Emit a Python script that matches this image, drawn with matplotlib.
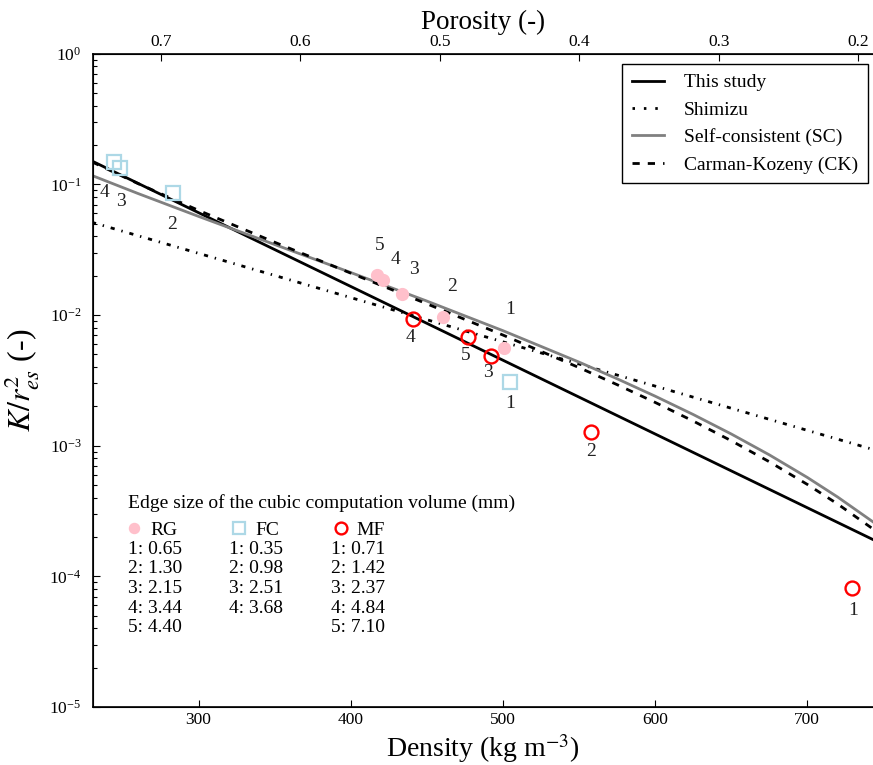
import matplotlib
matplotlib.use("Agg")
import matplotlib.pyplot as plt
from matplotlib.lines import Line2D
from matplotlib.ticker import LogLocator, LogFormatterSciNotation, NullLocator, FixedLocator, NullFormatter

plt.rcParams["font.family"] = "serif"
plt.rcParams["font.serif"] = ["Liberation Serif", "DejaVu Serif"]
plt.rcParams["mathtext.fontset"] = "stix"

ICE_DENSITY = 917.0

# Model curves: normalised permeability K / r_es^2 versus snow density
model_density = [230, 260, 300, 350, 400, 450, 500, 550, 575, 600, 625, 650, 675, 700, 720, 743]
carman_kozeny = [0.14853, 0.10167, 0.063248, 0.036061, 0.020928, 0.012188, 0.0070285,
                 0.0039601, 0.0029320, 0.0021443, 0.0015446, 0.0010918, 0.00075381,
                 0.00050537, 0.0003574, 0.00023126]
self_consistent = [0.11693, 0.085321, 0.056869, 0.034657, 0.021148, 0.012789, 0.0075910,
                   0.0043617, 0.0032537, 0.0023937, 0.0017331, 0.0012296, 0.00085129,
                   0.00057147, 0.00040413, 0.00026204]
fit_density = [230, 743]
this_study = [0.15086, 1.9155e-4]
shimizu = [0.05121, 9.369e-4]

# Computed samples (label i+1 for element i)
rg_density = [501.0, 460.9, 433.5, 421.4, 417.4]
rg_k = [0.00556, 0.00971, 0.01441, 0.01854, 0.0202]
fc_density = [504.7, 283.0, 248.2, 244.2]
fc_k = [0.00309, 0.0855, 0.1341, 0.1476]
mf_density = [729.1, 558.0, 492.0, 440.7, 476.9]
mf_k = [8.1e-5, 0.00127, 0.00486, 0.00927, 0.00682]

# Edge size of the cubic computation volume (mm)
rg_edge = [0.65, 1.30, 2.15, 3.44, 4.40]
fc_edge = [0.35, 0.98, 2.51, 3.68]
mf_edge = [0.71, 1.42, 2.37, 4.84, 7.10]

porosity_ticks = [0.7, 0.6, 0.5, 0.4, 0.3, 0.2]

# label offsets in points, one per sample
rg_offsets = [(4, 28), (6, 21.5), (8.5, 18), (9, 14.5), (1.5, 21.5)]
fc_offsets = [(0, -15.5), (-0.5, -22.5), (1.2, -24.5), (-6.5, -22)]
mf_offsets = [(1, -16), (0, -14), (-1.7, -12), (-1.2, -13), (-1.2, -13.2)]

W, H = 873, 765
fig = plt.figure(figsize=(W / 100, H / 100), dpi=100)
left, right, top, bottom = 92.6, 873.5, 53.7, 707.0
ax = fig.add_axes([left / W, 1 - bottom / H, (right - left) / W, (bottom - top) / H])

shimizu_style = (0, (1.5, 2.5, 0.5, 2.5))
ck_style = (0, (2.6, 2.9))

ax.plot(fit_density, this_study, color="black", lw=2.0, label="This study")
ax.plot(fit_density, shimizu, color="black", lw=2.0, linestyle=shimizu_style, label="Shimizu")
ax.plot(model_density, self_consistent, color="gray", lw=2.0, label="Self-consistent (SC)")
ax.plot(model_density, carman_kozeny, color="black", lw=2.0, linestyle=ck_style,
        label="Carman-Kozeny (CK)")

rg_art, = ax.plot(rg_density, rg_k, "o", ms=8.5, mfc="pink", mec="pink", ls="none", label="RG")
fc_art, = ax.plot(fc_density, fc_k, "s", ms=10, mfc="none", mec="lightblue", mew=1.6,
                  ls="none", label="FC")
mf_art, = ax.plot(mf_density, mf_k, "o", ms=10, mfc="none", mec="red", mew=1.7,
                  ls="none", label="MF")

for xs, ys, offs in ((rg_density, rg_k, rg_offsets), (fc_density, fc_k, fc_offsets),
                     (mf_density, mf_k, mf_offsets)):
    for i, (x, y) in enumerate(zip(xs, ys)):
        ax.annotate(str(i + 1), (x, y), xytext=offs[i], textcoords="offset points",
                    ha="center", va="center", fontsize=14, color="#222222")

ax.set_yscale("log")
ax.set_xlim(230.4, 743.5)
ax.set_ylim(1e-5, 1.0)
ax.yaxis.set_major_locator(LogLocator(base=10, numticks=10))
ax.yaxis.set_major_formatter(LogFormatterSciNotation())
ax.yaxis.set_minor_locator(LogLocator(base=10, subs=range(2, 10), numticks=20))
ax.yaxis.set_minor_formatter(NullFormatter())
ax.xaxis.set_major_locator(FixedLocator([300, 400, 500, 600, 700]))
ax.xaxis.set_minor_locator(NullLocator())
ax.tick_params(axis="both", which="both", direction="in", top=False, right=False)
ax.tick_params(axis="x", which="major", length=5, width=0.8, labelsize=12.5, pad=3.5)
ax.tick_params(axis="y", which="major", length=5, width=0.8, labelsize=12.5, pad=8)
ax.tick_params(axis="y", which="minor", length=3, width=0.8)
for sp in ax.spines.values():
    sp.set_linewidth(1.2)

ax.set_xlabel("Density (kg m$^{-3}$)", fontsize=20, labelpad=3)
ax.set_ylabel("$K/r_{es}^2$ (-)", fontsize=23, labelpad=6)

# porosity scale on top
ax2 = ax.twiny()
ax2.set_xlim(ax.get_xlim())
ax2.xaxis.set_major_locator(FixedLocator([ICE_DENSITY * (1 - p) for p in porosity_ticks]))
ax2.set_xticklabels([f"{p:.1f}" for p in porosity_ticks])
ax2.xaxis.set_minor_locator(NullLocator())
ax2.tick_params(axis="x", which="major", direction="in", length=5, width=0.8,
                labelsize=12.5, pad=2.5)
ax2.set_xlabel("Porosity (-)", fontsize=19.5, labelpad=4)

# model legend
handles = [Line2D([], [], color="black", lw=2.0),
           Line2D([], [], color="black", lw=2.0, linestyle=(0, (0.9, 3.2))),
           Line2D([], [], color="gray", lw=2.0),
           Line2D([], [], color="black", lw=2.0, linestyle=ck_style)]
labels = ["This study", "Shimizu", "Self-consistent (SC)", "Carman-Kozeny (CK)"]
ax_w, ax_h = right - left, bottom - top
leg1 = ax2.legend(handles, labels, loc="upper right",
                  bbox_to_anchor=((868 - left) / ax_w, (bottom - 64) / ax_h),
                  borderaxespad=0, fontsize=14, fancybox=False, framealpha=1,
                  edgecolor="black", handlelength=1.65, handletextpad=1.05,
                  labelspacing=0.5, borderpad=0.5)
leg1.get_frame().set_linewidth(1.0)

# sample legend with edge sizes
leg2 = ax.legend([rg_art, fc_art, mf_art], ["RG", "FC", "MF"], ncol=3, loc="upper left",
                 bbox_to_anchor=((127.7 - left) / ax_w, (bottom - 494) / ax_h),
                 borderaxespad=0, borderpad=0, frameon=False, fontsize=14,
                 title="Edge size of the cubic computation volume (mm)", title_fontsize=14,
                 alignment="left", handlelength=0.65, handletextpad=0.5,
                 columnspacing=2.85, markerscale=0.85)

col_x = [127.7, 229.3, 330.7]
for cx, edges in zip(col_x, (rg_edge, fc_edge, mf_edge)):
    for i, e in enumerate(edges):
        ax.text((cx - left) / ax_w, (bottom - (549 + 19.7 * i)) / ax_h, f"{i + 1}: {e:.2f}",
                transform=ax.transAxes, fontsize=14, ha="left", va="center")

fig.savefig("out.png", dpi=100)
